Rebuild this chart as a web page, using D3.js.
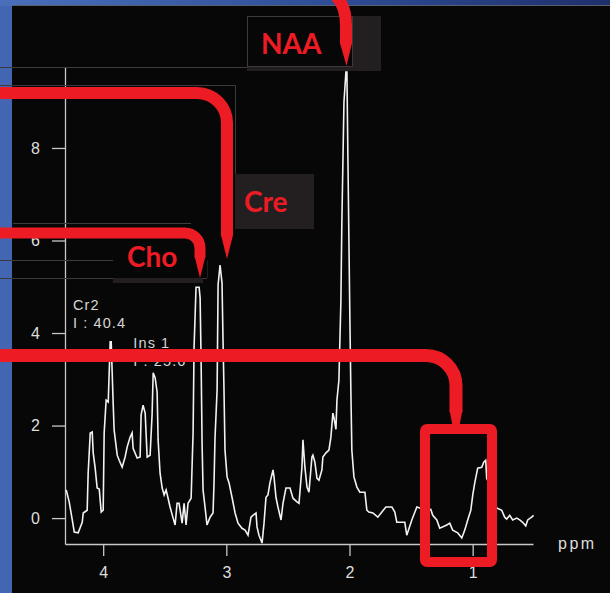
<!DOCTYPE html>
<html>
<head>
<meta charset="utf-8">
<script src="https://cdn.jsdelivr.net/npm/d3@7"></script>
<style>
  html, body { margin: 0; padding: 0; background: #070707; }
  svg { display: block; }
</style>
</head>
<body>
<svg id="chart" width="610" height="593"></svg>
<script>
// Chemical shift (ppm) of each sample of the MR spectrum
const ppm = [4.300,4.276,4.251,4.235,4.203,4.170,4.162,4.130,4.122,4.105,4.089,4.081,4.065,4.049,4.032,4.016,4.000,3.992,3.976,3.959,
  3.943,3.935,3.919,3.911,3.886,3.870,3.846,3.822,3.805,3.781,3.765,3.757,3.724,3.700,3.692,3.676,3.659,3.643,3.619,3.603,
  3.594,3.578,3.562,3.554,3.538,3.521,3.505,3.489,3.473,3.457,3.432,3.416,3.400,3.384,3.359,3.343,3.327,3.311,3.286,3.270,
  3.262,3.246,3.221,3.213,3.205,3.197,3.189,3.173,3.157,3.132,3.108,3.100,3.092,3.075,3.067,3.051,3.035,3.027,3.019,3.011,
  2.994,2.978,2.954,2.929,2.905,2.873,2.848,2.824,2.800,2.784,2.759,2.751,2.735,2.710,2.694,2.678,2.662,2.646,2.621,2.613,
  2.597,2.581,2.556,2.540,2.516,2.483,2.459,2.427,2.410,2.386,2.378,2.362,2.345,2.329,2.305,2.297,2.281,2.264,2.248,2.224,
  2.216,2.191,2.167,2.151,2.135,2.127,2.110,2.102,2.086,2.070,2.062,2.045,2.029,2.021,2.013,1.997,1.989,1.981,1.964,1.940,
  1.916,1.875,1.859,1.843,1.810,1.770,1.737,1.705,1.656,1.632,1.616,1.575,1.551,1.535,1.494,1.453,1.429,1.389,1.340,1.324,
  1.291,1.267,1.210,1.186,1.162,1.121,1.088,1.064,1.040,1.015,0.999,0.983,0.959,0.926,0.910,0.894,0.886,0.853,0.805,0.764,
  0.740,0.724,0.699,0.675,0.642,0.618,0.594,0.569,0.553,0.521,0.505];

// Signal intensity at each sample
const intensity = [0.61,0.35,-0.04,-0.30,-0.32,-0.09,0.11,0.17,0.97,1.84,1.86,1.41,1.08,0.65,0.63,0.13,0.17,1.84,2.55,2.51,
  3.81,3.81,2.49,1.90,1.36,1.25,1.10,1.32,1.54,1.75,1.84,1.51,1.30,1.32,2.23,2.44,2.27,1.32,1.36,2.23,
  3.14,3.03,2.72,1.69,0.97,0.65,0.50,0.61,0.43,0.24,0.00,-0.15,0.32,0.32,-0.11,0.32,-0.15,0.32,0.43,1.84,
  3.70,4.99,4.99,4.76,3.42,1.62,0.61,0.24,-0.15,0.02,0.11,0.76,1.73,2.77,5.04,5.47,5.08,3.85,2.77,1.47,
  0.89,0.76,0.45,0.11,-0.11,-0.22,-0.26,-0.37,0.02,0.06,0.11,-0.19,-0.37,-0.54,-0.11,0.45,0.50,0.76,1.04,0.89,
  0.45,0.24,-0.04,0.32,0.65,0.65,0.43,0.35,0.32,1.10,1.69,1.10,0.67,0.56,1.32,1.36,1.21,0.86,0.82,1.04,
  1.32,1.41,1.47,1.75,2.27,2.18,1.92,2.55,2.98,4.67,6.40,8.99,9.64,9.64,7.81,4.32,2.77,1.47,0.89,0.67,
  0.56,0.56,0.17,0.13,0.11,0.02,0.13,0.24,0.24,0.13,-0.09,-0.09,-0.09,-0.37,-0.04,0.24,0.22,0.17,0.19,0.06,
  -0.04,-0.22,-0.15,-0.11,-0.26,-0.32,-0.43,-0.26,-0.04,0.17,0.50,0.76,1.08,1.10,1.21,1.25,0.86,0.67,0.22,0.17,
  0.02,-0.02,0.06,-0.04,0.00,-0.04,-0.09,-0.17,-0.04,0.02,0.06];

const yTicks = [0, 2, 4, 6, 8];
const xTicks = [4, 3, 2, 1];
const xDomain = [4.31, 0.51];
const yDomain = [-0.56, 9.75];

// Fit readouts printed beside the peaks
const fitNotes = [
  { lines: ["Cr2", "I : 40.4"], ppm: 4.31, val: 4.5 },
  { lines: ["Ins 1", "I : 25.6"], ppm: 3.82, val: 3.68 }
];

// Metabolite callouts
const metaboliteLabels = ["NAA", "Cre", "Cho"];

const svg = d3.select("#chart");
const W = 610, H = 593;

// Slide frame
const defs = svg.append("defs");
const grad = defs.append("linearGradient").attr("id", "frameTop").attr("x1", "0").attr("x2", "1");
grad.append("stop").attr("offset", "0").attr("stop-color", "#4a6fbb");
grad.append("stop").attr("offset", "0.55").attr("stop-color", "#2d4d96");
grad.append("stop").attr("offset", "1").attr("stop-color", "#1f2f6c");
svg.append("rect").attr("width", W).attr("height", H).attr("fill", "#4366b2");
svg.append("rect").attr("width", W).attr("height", 6).attr("fill", "url(#frameTop)");
svg.append("rect").attr("x", 12).attr("y", 6).attr("width", W - 12).attr("height", H - 6).attr("fill", "#070707");
svg.append("line").attr("x1", 12).attr("x2", W).attr("y1", 5.5).attr("y2", 5.5)
  .attr("stroke", "#5a5f6e").attr("stroke-width", 1);

const x = d3.scaleLinear().domain(xDomain).range([65, 533]);
const y = d3.scaleLinear().domain(yDomain).range([544, 67]);

const axisColor = "#c8c8c8";
const tickFont = "'Liberation Sans', Arial, sans-serif";

// Left axis
const gy = svg.append("g").attr("transform", `translate(${x(xDomain[0])},0)`)
  .call(d3.axisLeft(y).tickValues(yTicks).tickSize(13).tickSizeOuter(0).tickPadding(12).tickFormat(d3.format("d")));
// Bottom axis
const gx = svg.append("g").attr("transform", `translate(0,${y(yDomain[0])})`)
  .call(d3.axisBottom(x).tickValues(xTicks).tickSize(12).tickSizeOuter(0).tickPadding(11).tickFormat(d3.format("d")));
[gx, gy].forEach(g => {
  g.select(".domain").attr("stroke", axisColor).attr("stroke-width", 1.3);
  g.selectAll(".tick line").attr("stroke", axisColor).attr("stroke-width", 1.3);
  g.selectAll(".tick text").attr("fill", "#dedede").attr("font-family", tickFont).attr("font-size", 16);
});
svg.append("text").attr("x", 558).attr("y", 549).text("ppm")
  .attr("fill", "#dedede").attr("font-family", tickFont).attr("font-size", 16).attr("letter-spacing", 2.5);

// Fit readouts
fitNotes.forEach(n => {
  const t = svg.append("text").attr("fill", "#d6d6d6").attr("font-family", tickFont)
    .attr("font-size", 14.5).attr("letter-spacing", 1.1);
  n.lines.forEach((ln, i) => {
    t.append("tspan").attr("x", x(n.ppm) + 8).attr("y", y(n.val) + i * 18).text(ln);
  });
});

// Spectrum trace
const pts = d3.zip(ppm, intensity);
svg.append("path").datum(pts)
  .attr("fill", "none").attr("stroke", "#f2f2f2").attr("stroke-width", 1.6).attr("stroke-linejoin", "miter")
  .attr("d", d3.line().x(d => x(d[0])).y(d => y(d[1])));

// Faint outlines left over from the slide's text boxes
const faint = "#3b3b3b";
const faintPaths = ["M0,67.5H247", "M0,85.5H235.5V174", "M13,223.5H191", "M0,260.5H207V278", "M0,278.5H207"];
faintPaths.forEach(p => svg.append("path").attr("d", p).attr("fill", "none").attr("stroke", faint).attr("stroke-width", 1));

// Callout boxes
const boxGray = "#231f20";
svg.append("rect").attr("x", 247).attr("y", 16).attr("width", 134).attr("height", 55).attr("fill", boxGray);
svg.append("rect").attr("x", 247.5).attr("y", 16.5).attr("width", 105).attr("height", 50).attr("fill", "#070707").attr("stroke", faint);
svg.append("rect").attr("x", 235).attr("y", 174).attr("width", 79).attr("height", 55).attr("fill", boxGray);
svg.append("rect").attr("x", 113).attr("y", 240).attr("width", 90).attr("height", 43).attr("fill", boxGray);
svg.append("rect").attr("x", 113).attr("y", 240).attr("width", 94).attr("height", 38).attr("fill", "#070707");

// Callout arrows
const red = "#ed1c24";
const arrow = svg.append("g");
function stroke(d, w) {
  arrow.append("path").attr("d", d).attr("fill", "none").attr("stroke", red)
    .attr("stroke-width", w).attr("stroke-linejoin", "round");
}
function tip(d) { arrow.append("path").attr("d", d).attr("fill", red); }

// NAA: drops in from the top edge onto the main peak
stroke("M336,-4 Q346,6 346,26 L346,44", 12);
tip("M340,43 L352,43 L346.5,66 Z");
// Cre
stroke("M-6,93 H197 A30,30 0 0 1 227,123 V236", 12);
tip("M221,235 L233,235 L227,259 Z");
// Cho
stroke("M-6,233 H185 A15,15 0 0 1 200,248 V257", 11);
tip("M194.5,256 L205.5,256 L200,278 Z");
// Ins: long line into the lipid/lactate box
stroke("M-6,355.5 H426 A30,30 0 0 1 456,385.5 V412", 13);
tip("M449.5,410 L462.5,410 L459,428 L453,428 Z");
arrow.append("rect").attr("x", 425).attr("y", 429).attr("width", 67).attr("height", 133).attr("rx", 2)
  .attr("fill", "none").attr("stroke", red).attr("stroke-width", 10);

// Callout text
const labelFont = "Lato, 'Open Sans', sans-serif";
const labelPos = [[261, 54], [244, 212], [127, 267]];
metaboliteLabels.forEach((txt, i) => {
  svg.append("text").attr("x", labelPos[i][0]).attr("y", labelPos[i][1]).text(txt)
    .attr("fill", red).attr("font-family", labelFont).attr("font-weight", 700).attr("font-size", 28);
});
</script>
</body>
</html>
